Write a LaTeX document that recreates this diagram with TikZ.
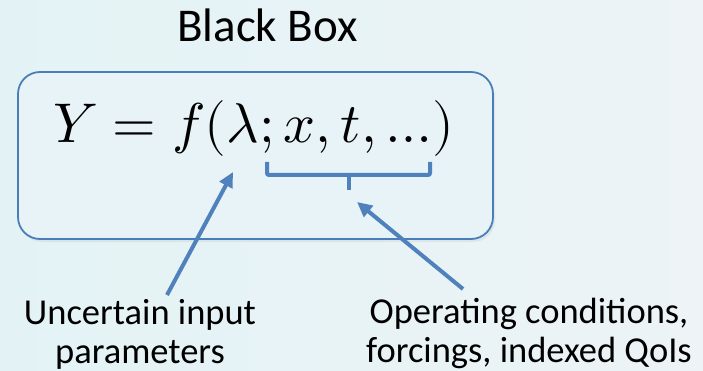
\documentclass[tikz,border=0pt]{standalone}
\usepackage{fontspec}
\usepackage{unicode-math}
\setmainfont{Carlito}
\setmathfont{Latin Modern Math}
\usepackage{xcolor}
\definecolor{boxblue}{HTML}{4A7EBB}
\definecolor{arrowblue}{HTML}{4F81BD}
\definecolor{bgleft}{HTML}{E3F3F5}
\definecolor{bgright}{HTML}{EDF3F7}
\usetikzlibrary{arrows.meta,positioning,calc,shadows}

\begin{document}
\begin{tikzpicture}[x=1pt,y=-1pt,
  callout/.style={arrowblue,line width=4pt,-{Triangle[length=15pt,width=14pt]}},
  bracket/.style={arrowblue,line width=4pt,rounded corners=2pt},
  infotext/.style={font=\fontsize{36.5}{39}\selectfont,align=center,inner sep=0pt}]
  % background
  \shade[left color=bgleft,right color=bgright] (0,0) rectangle (703,371);
  \useasboundingbox (0,0) rectangle (703,371);
  % title and box
  \node[font=\fontsize{47}{54}\selectfont,inner sep=0pt,anchor=base] (title) at (267.5,42) {Black Box};
  \node[draw=boxblue,line width=1.8pt,rounded corners=22pt,minimum width=475pt,minimum height=167pt,
        drop shadow={opacity=0.12,shadow xshift=2pt,shadow yshift=-3pt},fill=bgleft!60!bgright] (bbox) at (255.5,155.5) {};
  \node[font=\fontsize{56}{60}\selectfont,inner sep=0pt,anchor=base west] (eq) at (53,143) {$Y = f(\lambda; x, t, \ldots)$};
  % bracket under x, t, ...
  \coordinate (brtip) at (349,190);
  \draw[bracket] (267,162) -- (267,175) -- (430,175) -- (430,162);
  \draw[bracket] (349,175) -- (brtip);
  % labels
  \node[infotext,anchor=base] (uncert) at (140,363) {Uncertain input\\parameters};
  \node[infotext,anchor=base] (opcond) at (529,362) {Operating conditions,\\forcings, indexed QoIs};
  % arrows
  \coordinate (lamtail) at (167,295);
  \coordinate (lamhead) at (233,172);
  \coordinate (optail) at (463,289);
  \coordinate (ophead) at (357,202);
  \draw[callout] (lamtail) -- (lamhead);
  \draw[callout] (optail) -- (ophead);
\end{tikzpicture}
\end{document}
